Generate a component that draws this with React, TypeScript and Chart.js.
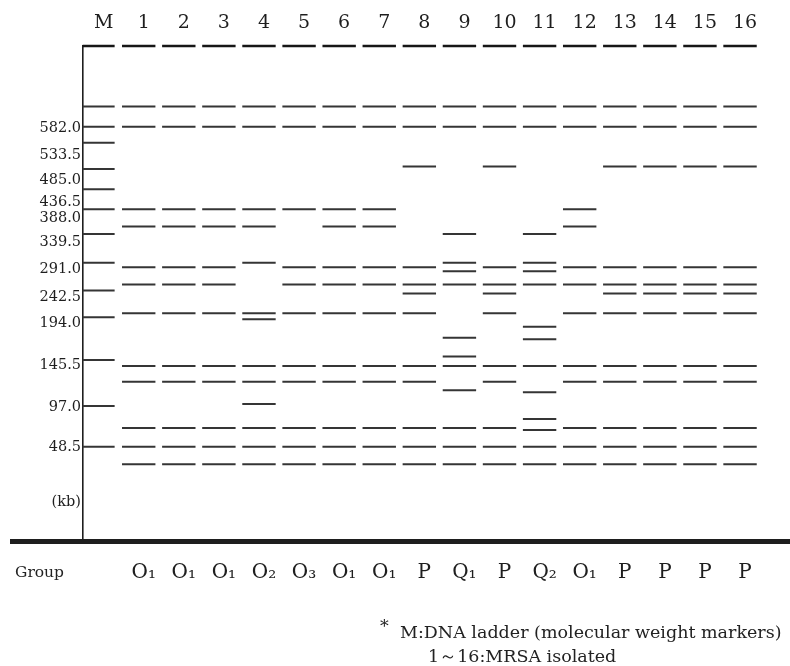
import React, { useEffect, useRef } from "react";
import { Chart, registerables } from "chart.js";

Chart.register(...registerables);

// Lane names (top) and PFGE groups (bottom)
const lanes = ["M", "1", "2", "3", "4", "5", "6", "7", "8", "9", "10", "11", "12", "13", "14", "15", "16"];
const groups = ["", "O₁", "O₁", "O₁", "O₂", "O₃", "O₁", "O₁", "P", "Q₁", "P", "Q₂", "O₁", "P", "P", "P", "P"];

// Band migration distance: 0 = wells, 100 = bottom of gel
const bandsM = [0, 12.2, 16.3, 19.5, 24.8, 28.9, 32.9, 37.9, 43.7, 49.3, 54.7, 63.3, 72.6, 80.8];
const bands1 = [0, 12.2, 16.3, 32.9, 36.4, 44.6, 48.1, 53.9, 64.5, 67.7, 77.0, 80.8, 84.3];
const bands2 = [0, 12.2, 16.3, 32.9, 36.4, 44.6, 48.1, 53.9, 64.5, 67.7, 77.0, 80.8, 84.3];
const bands3 = [0, 12.2, 16.3, 32.9, 36.4, 44.6, 48.1, 53.9, 64.5, 67.7, 77.0, 80.8, 84.3];
const bands4 = [0, 12.2, 16.3, 32.9, 36.4, 43.7, 53.9, 55.1, 64.5, 67.7, 72.2, 77.0, 80.8, 84.3];
const bands5 = [0, 12.2, 16.3, 32.9, 44.6, 48.1, 53.9, 64.5, 67.7, 77.0, 80.8, 84.3];
const bands6 = [0, 12.2, 16.3, 32.9, 36.4, 44.6, 48.1, 53.9, 64.5, 67.7, 77.0, 80.8, 84.3];
const bands7 = [0, 12.2, 16.3, 32.9, 36.4, 44.6, 48.1, 53.9, 64.5, 67.7, 77.0, 80.8, 84.3];
const bands8 = [0, 12.2, 16.3, 24.3, 44.6, 48.1, 49.9, 53.9, 64.5, 67.7, 77.0, 80.8, 84.3];
const bands9 = [0, 12.2, 16.3, 37.9, 43.7, 45.4, 48.1, 58.8, 62.6, 64.5, 69.4, 77.0, 80.8, 84.3];
const bands10 = [0, 12.2, 16.3, 24.3, 44.6, 48.1, 49.9, 53.9, 64.5, 67.7, 77.0, 80.8, 84.3];
const bands11 = [0, 12.2, 16.3, 37.9, 43.7, 45.4, 48.1, 56.6, 59.1, 64.5, 69.8, 75.2, 77.4, 80.8, 84.3];
const bands12 = [0, 12.2, 16.3, 32.9, 36.4, 44.6, 48.1, 53.9, 64.5, 67.7, 77.0, 80.8, 84.3];
const bands13 = [0, 12.2, 16.3, 24.3, 44.6, 48.1, 49.9, 53.9, 64.5, 67.7, 77.0, 80.8, 84.3];
const bands14 = [0, 12.2, 16.3, 24.3, 44.6, 48.1, 49.9, 53.9, 64.5, 67.7, 77.0, 80.8, 84.3];
const bands15 = [0, 12.2, 16.3, 24.3, 44.6, 48.1, 49.9, 53.9, 64.5, 67.7, 77.0, 80.8, 84.3];
const bands16 = [0, 12.2, 16.3, 24.3, 44.6, 48.1, 49.9, 53.9, 64.5, 67.7, 77.0, 80.8, 84.3];

// Size-marker tick labels (kb) and where they sit on the distance axis
const kbLabels = ["582.0", "533.5", "485.0", "436.5", "388.0", "339.5", "291.0", "242.5", "194.0", "145.5", "97.0", "48.5", "(kb)"];
const kbLabelPos = [16.5, 22.0, 27.0, 31.5, 34.7, 39.5, 45.0, 50.6, 55.9, 64.3, 72.8, 80.9, 91.9];

const groupTitle = "Group";
const noteLine1 = "M:DNA ladder (molecular weight markers)";
const noteLine2 = "1～16:MRSA isolated";

const SERIF = "'DejaVu Serif', 'Liberation Serif', serif";

export default function App() {
  const ref = useRef<HTMLCanvasElement>(null);

  useEffect(() => {
    document.body.style.margin = "0";
    const canvas = ref.current;
    if (!canvas) return;

    const laneBands = [bandsM, bands1, bands2, bands3, bands4, bands5, bands6, bands7, bands8,
      bands9, bands10, bands11, bands12, bands13, bands14, bands15, bands16];

    const datasets = laneBands.map((bands, i) => ({
      label: lanes[i],
      data: bands.map((y) => ({ x: i, y })),
      showLine: false,
      pointStyle: "line" as const,
      pointRadius: i === 0 ? 16 : 16.7,
      pointHoverRadius: i === 0 ? 16 : 16.7,
      pointBorderColor: (c: any) => (c.raw && c.raw.y === 0 ? "#161616" : "#353535"),
      pointBorderWidth: (c: any) => (c.raw && c.raw.y === 0 ? 2.4 : 2),
      clip: false as any,
    }));

    const decor = {
      id: "decor",
      afterDraw(chart: any) {
        const { ctx, chartArea, width } = chart;
        ctx.save();
        // thick gel bottom line
        ctx.fillStyle = "#1e1e1e";
        ctx.fillRect(10, chartArea.bottom - 3, width - 10, 5);
        // "Group" caption
        ctx.fillStyle = "#222";
        ctx.font = `15.5px ${SERIF}`;
        ctx.textAlign = "left";
        ctx.textBaseline = "middle";
        ctx.fillText(groupTitle, 15, 573);
        // footnote
        ctx.textBaseline = "alphabetic";
        ctx.font = `17.5px ${SERIF}`;
        ctx.fillText("*", 380, 632);
        ctx.fillText(noteLine1, 400, 638);
        ctx.fillText(noteLine2, 428, 662);
        ctx.restore();
      },
    };

    const chart = new Chart(canvas, {
      type: "scatter",
      data: { datasets: datasets as any },
      plugins: [decor],
      options: {
        animation: false,
        responsive: false,
        events: [],
        layout: { padding: 0 },
        plugins: { legend: { display: false }, tooltip: { enabled: false }, title: { display: false } },
        scales: {
          x: {
            type: "linear",
            position: "bottom",
            min: -0.39,
            max: 16.77,
            afterBuildTicks: (s: any) => {
              s.ticks = lanes.map((_, i) => ({ value: i }));
            },
            afterFit: (s: any) => {
              s.height = 124;
            },
            ticks: {
              autoSkip: false,
              maxRotation: 0,
              padding: 19,
              labelOffset: 5,
              color: "#1e1e1e",
              font: { family: SERIF, size: 20 },
              callback: (_v: any, i: number) => groups[i],
            },
            grid: { display: false, drawTicks: false },
            border: { display: false },
          },
          xTop: {
            type: "linear",
            position: "top",
            min: -0.39,
            max: 16.77,
            afterBuildTicks: (s: any) => {
              s.ticks = lanes.map((_, i) => ({ value: i }));
            },
            afterFit: (s: any) => {
              s.height = 46;
            },
            ticks: {
              autoSkip: false,
              maxRotation: 0,
              padding: 11.6,
              labelOffset: 5,
              color: "#1e1e1e",
              font: { family: SERIF, size: 19 },
              callback: (_v: any, i: number) => lanes[i],
            },
            grid: { display: false, drawTicks: false },
            border: { display: false },
          },
          y: {
            type: "linear",
            reverse: true,
            min: 0,
            max: 100,
            afterBuildTicks: (s: any) => {
              s.ticks = kbLabelPos.map((v) => ({ value: v }));
            },
            afterFit: (s: any) => {
              s.width = 83;
            },
            ticks: {
              autoSkip: false,
              padding: 2,
              color: "#1e1e1e",
              font: { family: SERIF, size: 14.5 },
              callback: (_v: any, i: number) => kbLabels[i],
            },
            grid: { display: false, drawTicks: false },
            border: { display: true, color: "#1e1e1e", width: 1.6 },
          },
        },
      } as any,
    });

    return () => chart.destroy();
  }, []);

  return (
    <div style={{ width: 790, height: 666, position: "relative" }}>
      <canvas ref={ref} width={790} height={666} style={{ display: "block" }} />
    </div>
  );
}
